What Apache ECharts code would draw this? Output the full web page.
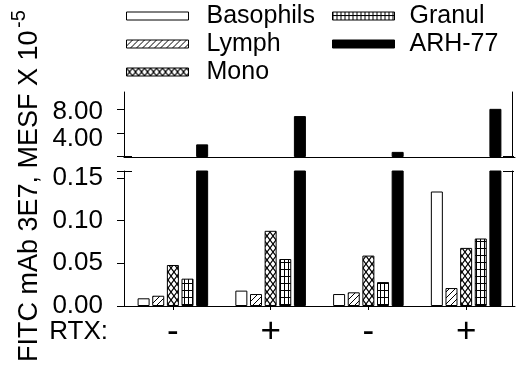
<!DOCTYPE html>
<html>
<head>
<meta charset="utf-8">
<script src="https://cdn.jsdelivr.net/npm/echarts@6/dist/echarts.min.js"></script>
<style>
html, body { margin: 0; padding: 0; background: #fff; }
#chart { width: 520px; height: 369px; }
</style>
</head>
<body>
<div id="chart"></div>
<script>
// groups along the x axis (RTX treatment)
const groups = ['-', '+', '-', '+'];
const seriesNames = ['Basophils', 'Lymph', 'Mono', 'Granul', 'ARH-77'];

// FITC mAb 3E7, MESF x 10^-5
const basophils = [0.009, 0.018, 0.014, 0.134];
const lymph = [0.012, 0.014, 0.016, 0.021];
const mono = [0.048, 0.088, 0.059, 0.068];
const granul = [0.032, 0.055, 0.028, 0.079];
const arh77 = [2.1, 6.8, 0.85, 8.0];

const upperTicks = [4, 8];
const lowerTicks = [0, 0.05, 0.10, 0.15];

const FONT = 'Liberation Sans, Arial, sans-serif';

function makePattern(w, h, draw) {
    const c = document.createElement('canvas');
    c.width = w;
    c.height = h;
    const ctx = c.getContext('2d');
    ctx.fillStyle = '#fff';
    ctx.fillRect(0, 0, w, h);
    ctx.strokeStyle = '#000';
    ctx.lineWidth = 1;
    ctx.beginPath();
    draw(ctx, w, h);
    ctx.stroke();
    return { image: c, repeat: 'repeat' };
}

const hatch = makePattern(6, 6, (ctx, w, h) => {
    ctx.moveTo(0, h); ctx.lineTo(w, 0);
    ctx.moveTo(-1, 1); ctx.lineTo(1, -1);
    ctx.moveTo(w - 1, h + 1); ctx.lineTo(w + 1, h - 1);
});
const cross = makePattern(6, 8, (ctx, w, h) => {
    ctx.lineWidth = 1.2;
    ctx.moveTo(0, 0); ctx.lineTo(w, h);
    ctx.moveTo(w, 0); ctx.lineTo(0, h);
});
const grid = makePattern(4, 7, (ctx, w, h) => {
    ctx.moveTo(0.5, 0); ctx.lineTo(0.5, h);
    ctx.moveTo(0, 3.5); ctx.lineTo(w, 3.5);
});

const fills = ['#fff', hatch, cross, grid, '#000'];
const values = [basophils, lymph, mono, granul, arh77];

const chart = echarts.init(document.getElementById('chart'));

const series = [];
// lower panel first, so legend icons take their style from it
seriesNames.forEach((name, i) => {
    series.push({
        name: name,
        type: 'bar',
        xAxisIndex: 1,
        yAxisIndex: 1,
        data: values[i],
        barWidth: 12,
        barGap: '22%',
        itemStyle: { color: fills[i], borderColor: '#000', borderWidth: 1 }
    });
});
// upper panel: only the tall ARH-77 bars reach it
seriesNames.forEach((name, i) => {
    series.push({
        name: name,
        type: 'bar',
        xAxisIndex: 0,
        yAxisIndex: 0,
        data: values[i],
        barWidth: 12,
        barGap: '22%',
        itemStyle: {
            color: fills[i],
            borderColor: '#000',
            borderWidth: 1,
            opacity: name === 'ARH-77' ? 1 : 0
        }
    });
});

const axisLine = { show: true, lineStyle: { color: '#000', width: 1 } };
const legendBase = {
    orient: 'vertical',
    itemWidth: 62,
    itemHeight: 8,
    itemGap: 0,
    padding: 0,
    icon: 'rect',
    selectedMode: false,
    itemStyle: { borderWidth: 1, borderColor: '#000' },
    textStyle: { fontSize: 25, lineHeight: 28, color: '#000', fontFamily: FONT }
};

const option = {
    animation: false,
    backgroundColor: '#fff',
    textStyle: { fontFamily: FONT },
    legend: [
        Object.assign({}, legendBase, {
            left: 126,
            top: 2,
            data: ['Basophils', 'Lymph', 'Mono'],
            textStyle: Object.assign({}, legendBase.textStyle, { padding: [0, 0, 0, 13] })
        }),
        Object.assign({}, legendBase, {
            left: 332,
            top: 2,
            data: ['Granul', 'ARH-77'],
            textStyle: Object.assign({}, legendBase.textStyle, { padding: [0, 0, 0, 10] })
        })
    ],
    grid: [
        { left: 124, width: 391, top: 92, height: 65, outerBoundsMode: 'none' },
        { left: 124, width: 391, top: 171, height: 135, outerBoundsMode: 'none' }
    ],
    xAxis: [
        {
            type: 'category',
            gridIndex: 0,
            position: 'top',
            data: groups,
            axisLine: axisLine,
            axisTick: { show: false },
            axisLabel: { show: false }
        },
        {
            type: 'category',
            gridIndex: 1,
            position: 'bottom',
            data: groups,
            axisLine: axisLine,
            axisTick: { show: true, length: 4, alignWithLabel: true, lineStyle: { color: '#000' } },
            axisLabel: { color: '#000', fontSize: 35, margin: 9, fontFamily: FONT }
        }
    ],
    yAxis: [
        {
            type: 'value',
            gridIndex: 0,
            min: 0,
            max: 10.8,
            interval: 4,
            axisLine: axisLine,
            splitLine: { show: false },
            axisTick: { show: true, length: 7, customValues: upperTicks, lineStyle: { color: '#000' } },
            axisLabel: {
                customValues: upperTicks,
                color: '#000',
                fontSize: 26,
                margin: 21,
                fontFamily: FONT,
                formatter: v => v === 4 ? '{d|4.00}' : '{e|' + v.toFixed(2) + '}',
                rich: {
                    d: { fontSize: 26, lineHeight: 38, verticalAlign: 'bottom', fontFamily: FONT },
                    e: { fontSize: 26, lineHeight: 31, verticalAlign: 'bottom', fontFamily: FONT }
                }
            }
        },
        {
            type: 'value',
            gridIndex: 1,
            min: 0,
            max: 0.158,
            interval: 0.05,
            axisLine: axisLine,
            splitLine: { show: false },
            axisTick: { show: true, length: 7, customValues: lowerTicks, lineStyle: { color: '#000' } },
            axisLabel: {
                customValues: lowerTicks,
                color: '#000',
                fontSize: 26,
                margin: 21,
                fontFamily: FONT,
                formatter: v => v.toFixed(2)
            }
        },
        {
            type: 'value',
            gridIndex: 0,
            position: 'right',
            offset: -3,
            axisLine: axisLine,
            splitLine: { show: false },
            axisTick: { show: false },
            axisLabel: { show: false }
        },
        {
            type: 'value',
            gridIndex: 1,
            position: 'right',
            offset: -3,
            axisLine: axisLine,
            splitLine: { show: false },
            axisTick: { show: false },
            axisLabel: { show: false }
        }
    ],
    graphic: [
        // axis break marks
        { type: 'line', shape: { x1: 117, y1: 156.5, x2: 132, y2: 156.5 }, style: { stroke: '#000', lineWidth: 1 } },
        { type: 'line', shape: { x1: 117, y1: 171.5, x2: 132, y2: 171.5 }, style: { stroke: '#000', lineWidth: 1 } },
        { type: 'line', shape: { x1: 503, y1: 156.5, x2: 514, y2: 156.5 }, style: { stroke: '#000', lineWidth: 1 } },
        { type: 'line', shape: { x1: 503, y1: 171.5, x2: 514, y2: 171.5 }, style: { stroke: '#000', lineWidth: 1 } },
        {
            type: 'text',
            x: 30,
            y: 362,
            rotation: Math.PI / 2,
            style: {
                text: 'FITC mAb 3E7, MESF X 10',
                font: '27px ' + FONT,
                fill: '#000',
                textAlign: 'left',
                textVerticalAlign: 'middle',
                align: 'left',
                verticalAlign: 'middle'
            }
        },
        {
            type: 'text',
            x: 19,
            y: 28,
            rotation: Math.PI / 2,
            style: {
                text: '-5',
                font: '20px ' + FONT,
                fill: '#000',
                textAlign: 'left',
                textVerticalAlign: 'middle',
                align: 'left',
                verticalAlign: 'middle'
            }
        },
        {
            type: 'text',
            x: 108,
            y: 332,
            style: {
                text: 'RTX:',
                font: '26px ' + FONT,
                fill: '#000',
                textAlign: 'right',
                textVerticalAlign: 'middle',
                align: 'right',
                verticalAlign: 'middle'
            }
        }
    ],
    series: series
};

chart.setOption(option);
</script>
</body>
</html>
